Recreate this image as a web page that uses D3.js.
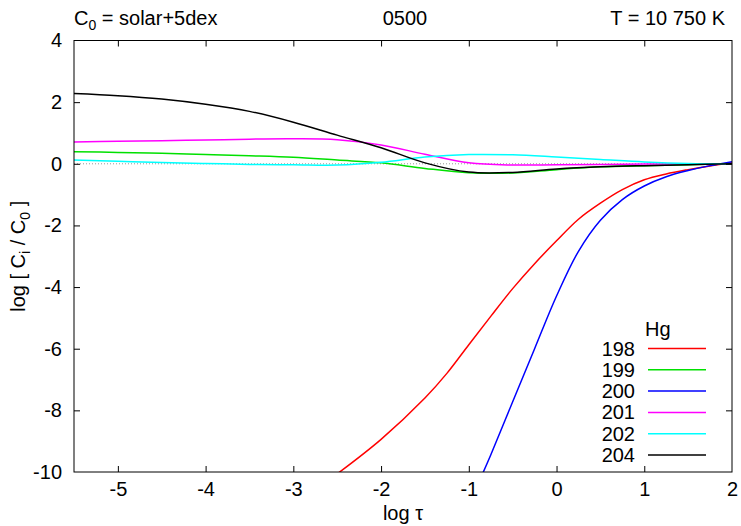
<!DOCTYPE html>
<html>
<head>
<meta charset="utf-8">
<script src="https://cdn.jsdelivr.net/npm/d3@7"></script>
<style>
    body { margin: 0; background: #fff; }
    text { font-family: "Liberation Sans", Arial, sans-serif; fill: #000; }
</style>
</head>
<body>
<div id="svg-holder"></div>
<script>
// log tau grid shared by the curves that stay near zero
var logTau = [-5.5, -5, -4.5, -4, -3.5, -3, -2.5, -2, -1.5, -1, -0.5, 0, 0.5, 1, 1.5, 2];

var hg199 = [0.39, 0.37, 0.34, 0.30, 0.26, 0.21, 0.12, 0.03, -0.15, -0.29, -0.30, -0.19, -0.10, -0.06, -0.03, 0];
var hg201 = [0.71, 0.73, 0.75, 0.77, 0.80, 0.81, 0.78, 0.61, 0.31, 0.03, -0.04, -0.03, -0.02, -0.01, 0, 0];
var hg202 = [0.12, 0.08, 0.04, 0.01, -0.02, -0.03, -0.04, 0.05, 0.22, 0.30, 0.29, 0.22, 0.14, 0.06, 0.01, 0];
var hg204 = [2.28, 2.21, 2.10, 1.93, 1.70, 1.35, 0.93, 0.52, 0.03, -0.27, -0.28, -0.17, -0.10, -0.06, -0.03, 0];

// the two steep ones start below the frame
var logTau198 = [-2.5, -2, -1.5, -1.25, -1, -0.75, -0.5, -0.25, 0, 0.25, 0.5, 0.75, 1, 1.25, 1.5, 1.75, 2];
var hg198 = [-10.06, -8.94, -7.60, -6.80, -5.87, -4.95, -4.05, -3.24, -2.50, -1.80, -1.28, -0.84, -0.52, -0.33, -0.19, -0.07, 0.03];

var logTau200 = [-0.85, -0.75, -0.5, -0.25, 0, 0.25, 0.5, 0.75, 1, 1.25, 1.5, 1.75, 2];
var hg200 = [-10.1, -9.45, -7.72, -6.0, -4.29, -2.84, -1.83, -1.16, -0.72, -0.42, -0.22, -0.06, 0.07];

var isotopes = ['198', '199', '200', '201', '202', '204'];
var colors = ['#ff0000', '#00e000', '#0000ff', '#ff00ff', '#00ffff', '#000000'];

var xTicks = [-5, -4, -3, -2, -1, 0, 1, 2];
var yTicks = [4, 2, 0, -2, -4, -6, -8, -10];

var fontSize = 20;

function drawChart(elementId) {
    var svg = d3.select(elementId).append('svg')
        .attr('width', 741)
        .attr('height', 526);

    var left = 74, right = 732, top = 40.5, bottom = 472;

    var x = d3.scaleLinear().domain([-5.5, 2]).range([left, right]);
    var y = d3.scaleLinear().domain([-10, 4]).range([bottom, top]);

    var series = [
        { tau: logTau198, val: hg198 },
        { tau: logTau, val: hg199 },
        { tau: logTau200, val: hg200 },
        { tau: logTau, val: hg201 },
        { tau: logTau, val: hg202 },
        { tau: logTau, val: hg204 }
    ];

    svg.append('clipPath').attr('id', 'plot-clip')
        .append('rect')
        .attr('x', left).attr('y', top)
        .attr('width', right - left).attr('height', bottom - top);

    // dotted zero line
    svg.append('line')
        .attr('x1', left).attr('x2', right)
        .attr('y1', y(0)).attr('y2', y(0))
        .attr('stroke', '#999')
        .attr('stroke-width', 1)
        .attr('stroke-dasharray', '1,2');

    var line = d3.line()
        .x(function(d) { return x(d[0]); })
        .y(function(d) { return y(d[1]); })
        .curve(d3.curveCatmullRom.alpha(0.5));

    svg.append('g')
        .attr('clip-path', 'url(#plot-clip)')
        .selectAll('path')
        .data(series)
        .enter()
        .append('path')
        .attr('fill', 'none')
        .attr('stroke', function(d, i) { return colors[i]; })
        .attr('stroke-width', 1.5)
        .attr('d', function(d) {
            return line(d.tau.map(function(t, k) { return [t, d.val[k]]; }));
        });

    // axes, ticks inward on all four sides; plain hyphen for minus like gnuplot
    var plain = function(d) { return String(d); };
    var tickLen = 6;
    var bottomAxis = d3.axisBottom(x).tickValues(xTicks).tickFormat(plain).tickSizeInner(-tickLen).tickSizeOuter(0).tickPadding(10);
    var topAxis = d3.axisTop(x).tickValues(xTicks).tickSizeInner(-tickLen).tickSizeOuter(0).tickFormat('');
    var leftAxis = d3.axisLeft(y).tickValues(yTicks).tickFormat(plain).tickSizeInner(-tickLen).tickSizeOuter(0).tickPadding(12);
    var rightAxis = d3.axisRight(y).tickValues(yTicks).tickSizeInner(-tickLen).tickSizeOuter(0).tickFormat('');

    var gB = svg.append('g').attr('transform', 'translate(0,' + bottom + ')').call(bottomAxis);
    var gT = svg.append('g').attr('transform', 'translate(0,' + top + ')').call(topAxis);
    var gL = svg.append('g').attr('transform', 'translate(' + left + ',0)').call(leftAxis);
    var gR = svg.append('g').attr('transform', 'translate(' + right + ',0)').call(rightAxis);

    [gB, gT, gL, gR].forEach(function(g) {
        g.select('.domain').remove();
        g.selectAll('line').attr('stroke', '#000').attr('stroke-width', 1);
        g.selectAll('text')
            .attr('font-size', fontSize)
            .attr('font-family', '"Liberation Sans", Arial, sans-serif')
            .attr('fill', '#000');
    });
    // ticks that fall on the frame corners are not needed
    gB.selectAll('.tick line').filter(function(d) { return d === 2; }).remove();
    gT.selectAll('.tick line').filter(function(d) { return d === 2; }).remove();
    gL.selectAll('.tick line').filter(function(d) { return d === 4 || d === -10; }).remove();
    gR.selectAll('.tick line').filter(function(d) { return d === 4 || d === -10; }).remove();

    svg.append('rect')
        .attr('x', left).attr('y', top)
        .attr('width', right - left).attr('height', bottom - top)
        .attr('fill', 'none')
        .attr('stroke', '#000')
        .attr('stroke-width', 1);

    // axis titles
    svg.append('text')
        .attr('x', 403)
        .attr('y', 520)
        .attr('text-anchor', 'middle')
        .attr('font-size', fontSize)
        .text('log τ');

    var yl = svg.append('text')
        .attr('transform', 'translate(25,' + ((top + bottom) / 2) + ') rotate(-90)')
        .attr('text-anchor', 'middle')
        .attr('font-size', fontSize);
    yl.append('tspan').text('log [ C');
    yl.append('tspan').attr('font-size', 14).attr('dy', 5).text('i');
    yl.append('tspan').attr('dy', -5).text(' / C');
    yl.append('tspan').attr('font-size', 14).attr('dy', 5).text('0');
    yl.append('tspan').attr('dy', -5).text(' ]');

    // header line
    var t1 = svg.append('text')
        .attr('x', 74)
        .attr('y', 25)
        .attr('font-size', fontSize);
    t1.append('tspan').text('C');
    t1.append('tspan').attr('font-size', 14).attr('dy', 5).text('0');
    t1.append('tspan').attr('dy', -5).text(' = solar+5dex');

    svg.append('text')
        .attr('x', 405)
        .attr('y', 25)
        .attr('text-anchor', 'middle')
        .attr('font-size', fontSize)
        .text('0500');

    svg.append('text')
        .attr('x', 725)
        .attr('y', 25)
        .attr('text-anchor', 'end')
        .attr('font-size', fontSize)
        .text('T = 10 750 K');

    // legend
    var legend = svg.append('g');
    legend.append('text')
        .attr('x', 645)
        .attr('y', 336)
        .attr('font-size', fontSize)
        .text('Hg');

    var rows = legend.selectAll('g.row')
        .data(isotopes)
        .enter()
        .append('g')
        .attr('class', 'row')
        .attr('transform', function(d, i) { return 'translate(0,' + (348.5 + i * 21.3) + ')'; });

    rows.append('text')
        .attr('x', 635)
        .attr('y', 7)
        .attr('text-anchor', 'end')
        .attr('font-size', fontSize)
        .text(function(d) { return d; });

    rows.append('line')
        .attr('x1', 648).attr('x2', 706)
        .attr('y1', 0).attr('y2', 0)
        .attr('stroke', function(d, i) { return colors[i]; })
        .attr('stroke-width', 1.5);
}

drawChart('#svg-holder');
</script>
</body>
</html>
